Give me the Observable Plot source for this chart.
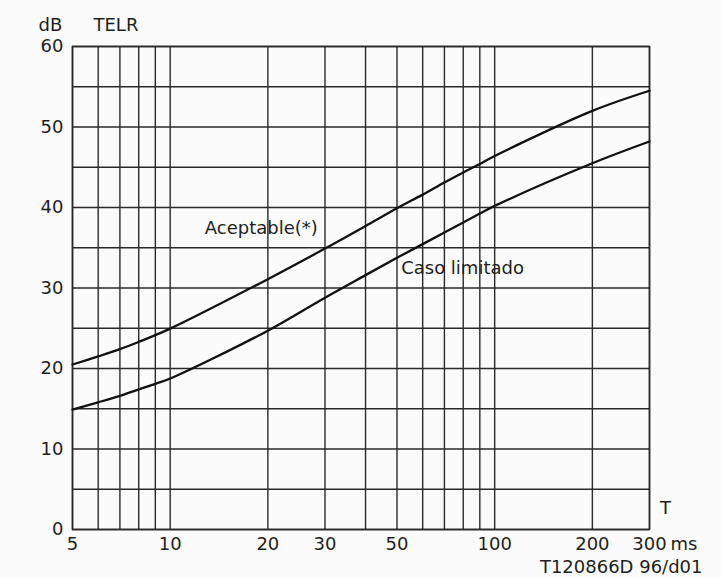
<!DOCTYPE html>
<html>
<head>
<meta charset="utf-8">
<script src="https://cdn.jsdelivr.net/npm/d3@7"></script>
<script src="https://cdn.jsdelivr.net/npm/@observablehq/plot@0.6"></script>
<style>
  html, body { margin: 0; padding: 0; background: #fbfbfb; }
  #chart svg { display: block; }
</style>
</head>
<body>
<div id="chart"></div>
<script>
// Delay T (ms) sampled along the curves
const delayMs = [5, 6, 7, 8, 9, 10, 20, 30, 40, 50, 60, 70, 80, 90, 100, 200, 300];
// TELR (dB) – "Aceptable(*)" curve
const aceptable = [20.5, 21.5, 22.4, 23.3, 24.15, 24.95, 31.1, 34.9, 37.7, 39.9, 41.6, 43.1, 44.35, 45.4, 46.4, 52.0, 54.5];
// TELR (dB) – "Caso limitado" curve
const casoLimitado = [14.9, 15.8, 16.6, 17.4, 18.1, 18.75, 24.7, 28.8, 31.6, 33.75, 35.45, 36.9, 38.15, 39.25, 40.2, 45.5, 48.2];

// Grid and tick values
const gridT = [5, 6, 7, 8, 9, 10, 20, 30, 40, 50, 60, 70, 80, 90, 100, 200, 300];
const gridDb = [0, 5, 10, 15, 20, 25, 30, 35, 40, 45, 50, 55, 60];
const xTickLabels = [5, 10, 20, 30, 50, 100, 200, 300];
const yTickLabels = [0, 10, 20, 30, 40, 50, 60];

const series = [
  ...delayMs.map((t, i) => ({T: t, dB: aceptable[i], serie: "Aceptable(*)"})),
  ...delayMs.map((t, i) => ({T: t, dB: casoLimitado[i], serie: "Caso limitado"}))
];

const font = "'DejaVu Sans', Arial, sans-serif";
const ink = "#1e1e1e";
const fs = 18;

const chart = Plot.plot({
  width: 722,
  height: 577,
  marginLeft: 72,
  marginRight: 73,
  marginTop: 46,
  marginBottom: 48,
  style: {fontFamily: font, fontSize: fs + "px", color: ink, background: "transparent"},
  x: {type: "log", domain: [5, 300], axis: null},
  y: {domain: [0, 60], axis: null},
  marks: [
    Plot.ruleX(gridT, {stroke: "#2a2a2a", strokeWidth: 1.4}),
    Plot.ruleY(gridDb, {stroke: "#2a2a2a", strokeWidth: 1.4}),
    Plot.frame({stroke: "#2a2a2a", strokeWidth: 1.6}),
    Plot.text(xTickLabels, {x: d => d, y: 0, text: d => String(d), dy: 15, fontSize: fs, fill: ink}),
    Plot.text(yTickLabels, {x: 5, y: d => d, text: d => String(d), dx: -9, textAnchor: "end", fontSize: fs, fill: ink}),
    Plot.line(series, {x: "T", y: "dB", z: "serie", curve: "catmull-rom", stroke: "#111", strokeWidth: 2.3}),
    Plot.text(["Aceptable(*)"], {x: 28.5, y: 37.4, text: d => d, textAnchor: "end", fontSize: fs, fill: ink}),
    Plot.text(["Caso limitado"], {x: 51.5, y: 32.4, text: d => d, textAnchor: "start", fontSize: fs, fill: ink}),
    Plot.text(["dB"], {x: 5, y: 60, text: d => d, dx: -22, dy: -21, fontSize: fs, fill: ink}),
    Plot.text(["TELR"], {x: 5, y: 60, text: d => d, dx: 21, dy: -21, textAnchor: "start", fontSize: fs, fill: ink}),
    Plot.text(["T"], {x: 300, y: 0, text: d => d, dx: 16, dy: -21, fontSize: fs, fill: ink}),
    Plot.text(["ms"], {x: 300, y: 0, text: d => d, dx: 21, dy: 15, textAnchor: "start", fontSize: fs, fill: ink}),
    Plot.text(["T120866D 96/d01"], {x: 300, y: 0, text: d => d, dx: 53, dy: 38, textAnchor: "end", fontSize: fs, fill: ink})
  ]
});

document.getElementById("chart").appendChild(chart);
</script>
</body>
</html>
